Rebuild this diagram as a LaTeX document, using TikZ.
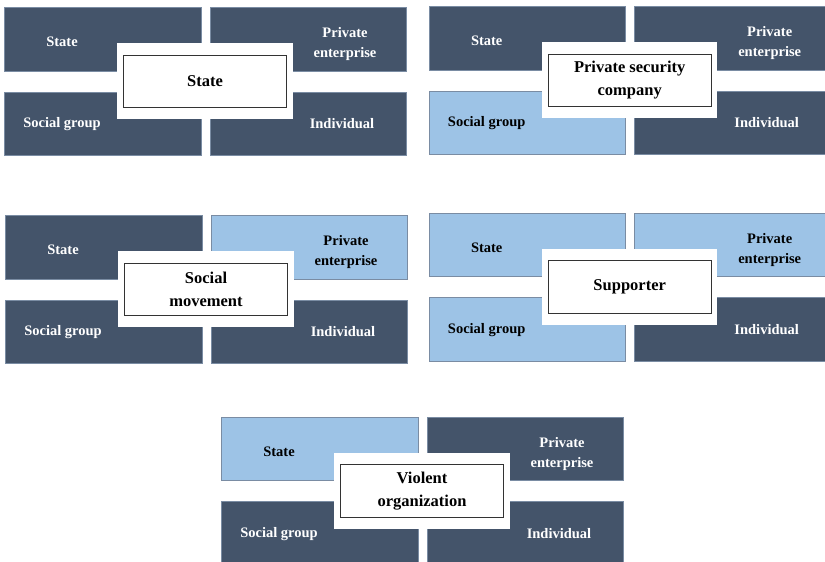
\documentclass[tikz,border=0pt]{standalone}
\usepackage{fontspec}
\setmainfont{Liberation Serif}
\definecolor{navy}{HTML}{44546A}
\definecolor{paleblue}{HTML}{9DC3E6}
\definecolor{cellline}{HTML}{7A8CA3}

% one panel: #1,#2 top left corner, #3 name, #4 centre text,
% #5-#8 shade of the cells (dark or light): tl, tr, bl, br
\newcommand{\rolepanel}[8]{%
  \begin{scope}[shift={(#1,#2)}]
    \node[cell #5, anchor=north west] (#3-tl) at (0,0) {};
    \node[cell #6, anchor=north west] (#3-tr) at (205.5,0) {};
    \node[cell #7, anchor=north west] (#3-bl) at (0,84.7) {};
    \node[cell #8, anchor=north west] (#3-br) at (205.5,84.7) {};
    \node[gap] (#3-gap) at (201,74.3) {};
    \node[rolebox] (#3) at (201,74.3) {#4};
    \node[lab #5] (#3-tl-text) at (58,35) {State};
    \node[lab #6] (#3-tr-text) at (341,37) {Private\\enterprise};
    \node[lab #7] (#3-bl-text) at (58,117) {Social group};
    \node[lab #8] (#3-br-text) at (338,117) {Individual};
  \end{scope}}

\begin{document}
\begin{tikzpicture}[x=1pt, y=-1pt,
  cell dark/.style={draw=cellline, line width=0.6pt, fill=navy,
    minimum width=196.5pt, minimum height=63.5pt, inner sep=0pt},
  cell light/.style={cell dark, fill=paleblue},
  gap/.style={fill=white, minimum width=175.5pt, minimum height=76pt, inner sep=0pt},
  rolebox/.style={draw=black!80, line width=0.9pt, fill=white, align=center,
    minimum width=163pt, minimum height=52.7pt, inner sep=2pt,
    font=\bfseries\fontsize{16.5}{22.5}\selectfont},
  lab dark/.style={text=white, align=center, font=\bfseries\fontsize{14.5}{20}\selectfont},
  lab light/.style={lab dark, text=black}]
  \useasboundingbox (0,0) rectangle (825,562);

  \rolepanel{4}{7}{state}{State}{dark}{dark}{dark}{dark}
  \rolepanel{428.7}{6}{security}{Private security\\company}{dark}{dark}{light}{dark}
  \rolepanel{5}{215}{movement}{Social\\movement}{dark}{light}{dark}{dark}
  \rolepanel{428.7}{212.7}{supporter}{Supporter}{light}{light}{light}{dark}
  \rolepanel{221}{416.7}{violent}{Violent\\organization}{light}{dark}{dark}{dark}
\end{tikzpicture}
\end{document}
